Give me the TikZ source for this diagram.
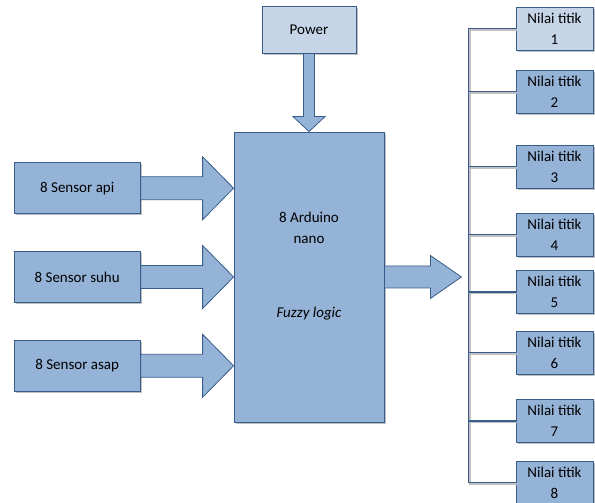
\documentclass[tikz,border=0pt]{standalone}
\usepackage{fontspec}
\setmainfont{Carlito}
\usetikzlibrary{positioning,calc,shadows}

\definecolor{boxfill}{HTML}{95B3D7}
\definecolor{lightfill}{HTML}{C6D5E8}
\definecolor{edge}{HTML}{385D8A}

\begin{document}
\begin{tikzpicture}[
    font=\fontsize{15}{21}\selectfont,
    node distance=37pt and 93pt,
    box/.style={draw=edge, line width=0.8pt, fill=boxfill, align=center, inner sep=2pt,
        drop shadow={shadow xshift=1.8pt, shadow yshift=-1.8pt, fill=black, opacity=0.25}},
    sensor/.style={box, minimum width=126pt, minimum height=51pt},
    nilai/.style={box, minimum width=77pt, minimum height=43pt},
    bigarrow/.style={draw=edge, line width=0.8pt, fill=boxfill, line join=miter},
    busline/.style={draw=edge, line width=1.1pt,
        preaction={draw=black!25, line width=1.6pt, transform canvas={shift={(1.6pt,-1.6pt)}}}},
    txt/.style={align=center, inner sep=1pt}
]
\useasboundingbox (0,0) rectangle (595pt,503pt);

% Controller and its inputs
\node[box, minimum width=150pt, minimum height=290pt] (ard) at (309pt,226pt) {};
\node[txt] (ardname) at ($(ard.north)+(0,-96pt)$) {8 Arduino\\nano};
\node[txt] (fuzzy) at ($(ard.north)+(0,-182pt)$) {\textit{Fuzzy logic}};
\node[box, fill=lightfill, minimum width=94pt, minimum height=47pt, above=78pt of ard] (power) {Power};
\node[sensor, left=93pt of ard] (suhu) {8 Sensor suhu};
\node[sensor, above=of suhu] (api) {8 Sensor api};
\node[sensor, below=of suhu] (asap) {8 Sensor asap};

% Output points
\node[nilai, fill=lightfill] (n1) at (554.5pt,474.5pt) {Nilai titik\\1};
\node[nilai] (n2) at (554.5pt,411.5pt) {Nilai titik\\2};
\node[nilai] (n3) at (554.5pt,336.5pt) {Nilai titik\\3};
\node[nilai] (n4) at (554.5pt,268.5pt) {Nilai titik\\4};
\node[nilai] (n5) at (554.5pt,211pt) {Nilai titik\\5};
\node[nilai] (n6) at (554.5pt,150.5pt) {Nilai titik\\6};
\node[nilai] (n7) at (554.5pt,82pt) {Nilai titik\\7};
\node[nilai] (n8) at (554.5pt,20.5pt) {Nilai titik\\8};

% Block arrows
\draw[bigarrow] ($(power.south)+(-5.5pt,0)$) -- ($(ard.north)+(-5.5pt,15pt)$) -- ++(-10.5pt,0)
    -- (ard.north) -- ++(16pt,15pt) -- ++(-10.5pt,0) -- ($(power.south)+(5.5pt,0)$) -- cycle;
\foreach \s in {api,suhu,asap}
    \draw[bigarrow] ($(\s.east)+(0,11.5pt)$) -- ($(ard.west|-\s.east)+(-31pt,11.5pt)$) -- ++(0,20pt)
        -- (ard.west|-\s.east) -- ++(-31pt,-31.5pt) -- ++(0,20pt) -- ($(\s.east)+(0,-11.5pt)$) -- cycle;
\coordinate (outtip) at ($(ard.east)+(77pt,0)$);
\draw[bigarrow] ($(ard.east)+(0,11pt)$) -- ($(outtip)+(-31pt,11pt)$) -- ++(0,10.5pt)
    -- (outtip) -- ++(-31pt,-21.5pt) -- ++(0,10.5pt) -- ($(ard.east)+(0,-11pt)$) -- cycle;

% Bus to the output points
\draw[busline] (n1.west) -| ($(n8.west)+(-47pt,0)$) -- (n8.west);
\foreach \i in {2,...,7}
    \draw[busline] (n\i.west) -- ++(-47pt,0);

\end{tikzpicture}
\end{document}
